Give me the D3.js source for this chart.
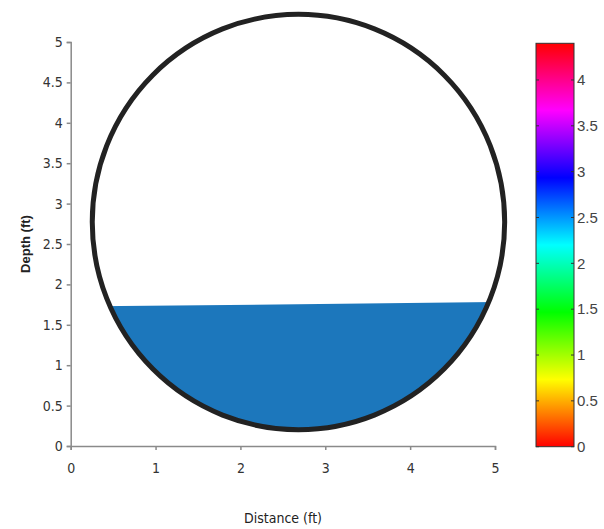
<!DOCTYPE html>
<html>
<head>
<meta charset="utf-8">
<script src="https://cdn.jsdelivr.net/npm/d3@7"></script>
<style>
  body { margin: 0; background: #fff; }
  svg text { font-family: "Liberation Sans Narrow", "DejaVu Sans Condensed", "Liberation Sans", Arial, sans-serif; }
</style>
</head>
<body>
<svg id="chart" width="604" height="529"></svg>
<script>
// axis ticks
const xTicks = [0, 1, 2, 3, 4, 5]
const yTicks = [0, 0.5, 1, 1.5, 2, 2.5, 3, 3.5, 4, 4.5, 5]
const barTicks = [0, 0.5, 1, 1.5, 2, 2.5, 3, 3.5, 4]
const barRange = [0, 4.4]

// pipe section (ft): center x, center y, radius along x, radius along y
const pipe = [2.684, 2.772, 2.43, 2.57]

// water surface, sloping slightly across the section
const surfaceX = [0, 5]
const surfaceY = [1.725, 1.781]

const svg = d3.select("#chart")
const fmt = d3.format("~g")

const x = d3.scaleLinear().domain([0, 5]).range([70.7, 495])
const y = d3.scaleLinear().domain([0, 5]).range([446, 42])
const cb = d3.scaleLinear().domain(barRange).range([446.7, 43.3])

// clip the water to the pipe interior
svg.append("clipPath").attr("id", "pipeClip")
  .append("ellipse")
  .attr("cx", x(pipe[0]))
  .attr("cy", y(pipe[1]))
  .attr("rx", x(pipe[0] + pipe[2]) - x(pipe[0]))
  .attr("ry", y(pipe[1] - pipe[3]) - y(pipe[1]))

const water = [
  [surfaceX[0], surfaceY[0]],
  [surfaceX[1], surfaceY[1]],
  [surfaceX[1], 0],
  [surfaceX[0], 0]
]
svg.append("path")
  .attr("d", d3.line().x(d => x(d[0])).y(d => y(d[1]))(water) + "Z")
  .attr("fill", "#1c77bc")
  .attr("clip-path", "url(#pipeClip)")

svg.append("ellipse")
  .attr("cx", x(pipe[0]))
  .attr("cy", y(pipe[1]))
  .attr("rx", x(pipe[0] + pipe[2]) - x(pipe[0]))
  .attr("ry", y(pipe[1] - pipe[3]) - y(pipe[1]))
  .attr("fill", "none")
  .attr("stroke", "#222")
  .attr("stroke-width", 5)

// axes
const xAxis = svg.append("g")
  .attr("transform", "translate(0," + y(0) + ")")
  .call(d3.axisBottom(x).tickValues(xTicks).tickFormat(fmt).tickSize(4).tickPadding(13))
const yAxis = svg.append("g")
  .attr("transform", "translate(" + x(0) + ",0)")
  .call(d3.axisLeft(y).tickValues(yTicks).tickFormat(fmt).tickSize(4).tickPadding(4))

for (const g of [xAxis, yAxis]) {
  g.select(".domain").attr("stroke", "#8a8a8a").attr("stroke-width", 1.5)
  g.selectAll(".tick line").attr("stroke", "#8a8a8a").attr("stroke-width", 1.5)
  g.selectAll(".tick text").attr("fill", "#333").style("font-size", "14px")
}

svg.append("text")
  .attr("x", 283).attr("y", 523)
  .attr("text-anchor", "middle")
  .attr("fill", "#222")
  .style("font-size", "14px")
  .text("Distance (ft)")

svg.append("text")
  .attr("transform", "translate(30," + y(2.5) + ") rotate(-90)")
  .attr("text-anchor", "middle")
  .attr("fill", "#222")
  .style("font-size", "13px")
  .style("font-weight", "bold")
  .style("font-family", "'Liberation Sans', Arial, sans-serif")
  .text("Depth (ft)")

// colour bar: hue wheel from red through yellow, green, cyan, blue, magenta, back to red
const grad = svg.append("defs").append("linearGradient")
  .attr("id", "hueBar")
  .attr("x1", 0).attr("y1", 1).attr("x2", 0).attr("y2", 0)
d3.range(0, 361, 15).forEach(h => {
  grad.append("stop")
    .attr("offset", h / 360)
    .attr("stop-color", d3.hsl(h % 360, 1, 0.5).formatHex())
})

const barX = 536, barW = 38
svg.append("rect")
  .attr("x", barX).attr("y", cb(barRange[1]))
  .attr("width", barW).attr("height", cb(barRange[0]) - cb(barRange[1]))
  .attr("fill", "url(#hueBar)")
  .attr("stroke", "#333")
  .attr("stroke-width", 1)

const bt = svg.append("g")
bt.selectAll("line.l").data(barTicks).join("line")
  .attr("x1", barX).attr("x2", barX + 3)
  .attr("y1", d => cb(d)).attr("y2", d => cb(d))
  .attr("stroke", "#333")
bt.selectAll("line.r").data(barTicks).join("line")
  .attr("x1", barX + barW - 3).attr("x2", barX + barW)
  .attr("y1", d => cb(d)).attr("y2", d => cb(d))
  .attr("stroke", "#333")
bt.selectAll("text").data(barTicks).join("text")
  .attr("x", barX + barW + 3)
  .attr("y", d => cb(d))
  .attr("dy", "0.35em")
  .attr("fill", "#444")
  .style("font-size", "15px")
  .style("font-family", "'Liberation Sans', Arial, sans-serif")
  .text(d => d)
</script>
</body>
</html>
